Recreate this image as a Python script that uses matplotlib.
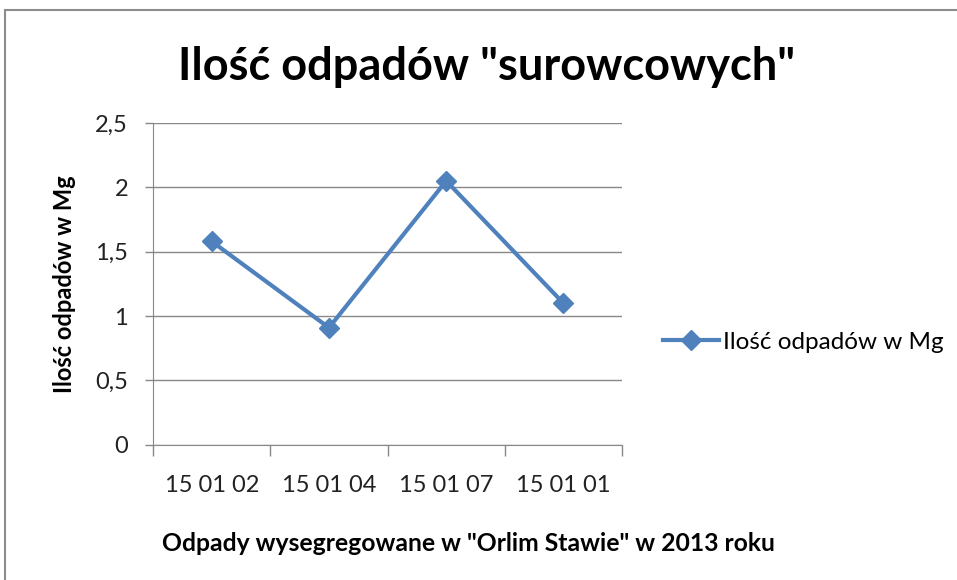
import matplotlib.pyplot as plt
from matplotlib.patches import Rectangle

# dane z wykresu
kategorie = ["15 01 02", "15 01 04", "15 01 07", "15 01 01"]
ilosc_mg = [1.58, 0.91, 2.05, 1.10]
y_ticks = [0, 0.5, 1, 1.5, 2, 2.5]
y_labels = ["0", "0,5", "1", "1,5", "2", "2,5"]

plt.rcParams['font.family'] = ['Lato', 'DejaVu Sans']

fig = plt.figure(figsize=(9.57, 5.80), dpi=100)
ax = fig.add_axes([0.160, 0.233, 0.490, 0.555])

# ramka wykresu
fig.patches.append(Rectangle((5 / 957, -0.02), 1.0, 1 - 10 / 580 + 0.02,
                             transform=fig.transFigure, fill=False,
                             edgecolor="#8c8c8c", linewidth=1.5))

x = list(range(len(kategorie)))
ax.plot(x, ilosc_mg, color="#4F81BD", linewidth=3, marker="D", markersize=10,
        label="Ilość odpadów w Mg")

ax.set_xlim(-0.5, len(kategorie) - 0.5)
ax.set_ylim(0, 2.5)
ax.set_yticks(y_ticks)
ax.set_yticklabels(y_labels, fontsize=17, color="#222222")

ax.set_xticks([i - 0.5 for i in range(len(kategorie) + 1)])
ax.set_xticklabels([])
ax.set_xticks(x, minor=True)
ax.set_xticklabels(kategorie, minor=True, fontsize=17, color="#222222")
ax.tick_params(axis="x", which="major", length=8, color="#888888", width=1)
ax.tick_params(axis="x", which="minor", length=0, pad=22)
ax.tick_params(axis="y", length=6, color="#888888", width=1, pad=12)

ax.yaxis.grid(True, color="#888888", linewidth=1)
ax.set_axisbelow(True)
for s in ["top", "right"]:
    ax.spines[s].set_visible(False)
ax.spines["left"].set_color("#888888")
ax.spines["bottom"].set_color("#888888")

ax.set_xlabel('Odpady wysegregowane w "Orlim Stawie" w 2013 roku',
              fontsize=17.8, fontweight="bold")
ax.xaxis.set_label_coords(0.672, -0.272)
ax.set_ylabel("Ilość odpadów w Mg", fontsize=17, fontweight="bold", labelpad=14)
fig.text(0.508, 0.885, 'Ilość odpadów "surowcowych"', ha="center", va="center",
         fontsize=32.5, fontweight="bold")

fig.legend(loc="center left", bbox_to_anchor=(0.670, 0.41), frameon=False,
           fontsize=17.5, handlelength=2.3, handletextpad=0.15)

fig.savefig("out.png", dpi=100)
